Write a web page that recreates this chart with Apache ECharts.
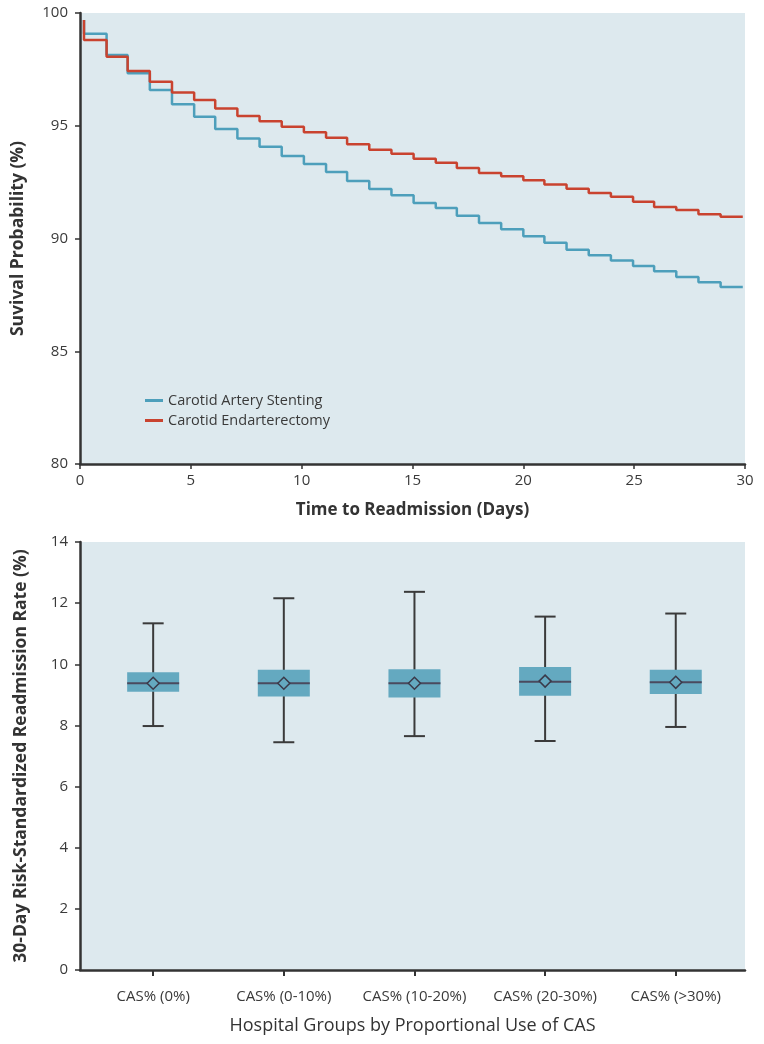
<!DOCTYPE html>
<html>
<head>
<meta charset="utf-8">
<script src="https://cdn.jsdelivr.net/npm/echarts@6/dist/echarts.min.js"></script>
<style>
html,body{margin:0;padding:0;background:#fff;}
#chart{width:764px;height:1044px;}
</style>
</head>
<body>
<div id="chart"></div>
<script>
// ---- Top panel: Kaplan-Meier survival (readmission-free) ----
const startDay = 0.18;
const startSurvival = 99.69;
const stepDays = [0.18, 1.2, 2.15, 3.15, 4.15, 5.15, 6.1, 7.1, 8.1, 9.1, 10.1, 11.1, 12.05, 13.05, 14.05,
  15.05, 16.05, 17.0, 18.0, 19.0, 20.0, 20.95, 21.95, 22.95, 23.95, 24.95, 25.9, 26.9, 27.9, 28.9];
const endDay = 29.9;
const casSurvival = [99.08, 98.14, 97.33, 96.59, 95.95, 95.40, 94.86, 94.44, 94.07, 93.66, 93.30, 92.95, 92.55, 92.20, 91.92,
  91.57, 91.35, 91.01, 90.69, 90.41, 90.10, 89.81, 89.50, 89.26, 89.02, 88.78, 88.55, 88.29, 88.06, 87.85];
const ceaSurvival = [98.80, 98.06, 97.43, 96.95, 96.48, 96.14, 95.77, 95.43, 95.20, 94.96, 94.71, 94.47, 94.18, 93.94, 93.76,
  93.54, 93.36, 93.13, 92.90, 92.76, 92.58, 92.39, 92.21, 92.02, 91.85, 91.63, 91.40, 91.26, 91.07, 90.97];
const seriesNames = ['Carotid Artery Stenting', 'Carotid Endarterectomy'];
const survivalTicks = [80, 85, 90, 95, 100];
const dayTicks = [0, 5, 10, 15, 20, 25, 30];

// ---- Bottom panel: box plots by hospital group ----
const categories = ['CAS% (0%)', 'CAS% (0-10%)', 'CAS% (10-20%)', 'CAS% (20-30%)', 'CAS% (>30%)'];
const boxMin    = [7.98, 7.45, 7.65, 7.49, 7.95];
const boxQ1     = [9.10, 8.95, 8.91, 8.97, 9.03];
const boxMedian = [9.38, 9.38, 9.38, 9.43, 9.41];
const boxQ3     = [9.74, 9.82, 9.84, 9.91, 9.82];
const boxMax    = [11.34, 12.16, 12.37, 11.56, 11.66];
const boxMean   = [9.38, 9.38, 9.38, 9.45, 9.41];
const rateTicks = [0, 2, 4, 6, 8, 10, 12, 14];

const BLUE = '#4d9fbb';
const RED = '#c9432f';
const BG = '#dde9ee';
const AX = '#333333';
const FONT = 'Open Sans';

function kmData(vals) {
  const d = [[startDay, startSurvival]];
  stepDays.forEach((t, i) => d.push([t, vals[i]]));
  d.push([endDay, vals[vals.length - 1]]);
  return d;
}

const boxData = categories.map((c, i) => [i + 1, boxMin[i], boxQ1[i], boxMedian[i], boxQ3[i], boxMax[i], boxMean[i]]);

const axisCommon = {
  axisLine: {show: true, onZero: false, lineStyle: {color: AX, width: 2.5}},
  axisTick: {show: true, length: 5, lineStyle: {color: AX, width: 1.5}},
  splitLine: {show: false},
  axisLabel: {color: '#3a3a3a', fontSize: 15, fontFamily: FONT}
};

const chart = echarts.init(document.getElementById('chart'), null, {renderer: 'canvas'});
chart.setOption({
  animation: false,
  backgroundColor: '#ffffff',
  textStyle: {fontFamily: FONT},
  grid: [
    {left: 80, right: 19, top: 13, height: 451, show: true, backgroundColor: BG, borderWidth: 0},
    {left: 80, right: 19, top: 542, height: 428, show: true, backgroundColor: BG, borderWidth: 0}
  ],
  legend: {
    data: seriesNames,
    orient: 'vertical',
    left: 140, top: 388,
    icon: 'rect', itemWidth: 18, itemHeight: 3, itemGap: 5,
    textStyle: {fontSize: 14.5, color: '#3a3a3a', fontFamily: FONT}
  },
  xAxis: [
    Object.assign({}, axisCommon, {
      gridIndex: 0, type: 'value', min: dayTicks[0], max: dayTicks[dayTicks.length - 1], interval: 5,
      axisLabel: Object.assign({}, axisCommon.axisLabel, {margin: 9}),
      name: 'Time to Readmission (Days)', nameLocation: 'middle', nameGap: 38,
      nameTextStyle: {fontSize: 17, fontWeight: 'bold', color: '#333', fontFamily: FONT}
    }),
    Object.assign({}, axisCommon, {
      gridIndex: 1, type: 'value', min: 0.44, max: 5.53,
      axisTick: {show: true, length: 6, customValues: [1, 2, 3, 4, 5], lineStyle: {color: AX, width: 2}},
      axisLabel: {color: '#3a3a3a', fontSize: 15, fontFamily: FONT, margin: 19,
        customValues: [1, 2, 3, 4, 5], formatter: v => categories[Math.round(v) - 1]},
      name: 'Hospital Groups by Proportional Use of CAS', nameLocation: 'middle', nameGap: 47,
      nameTextStyle: {fontSize: 18, color: '#333', fontFamily: FONT}
    })
  ],
  yAxis: [
    Object.assign({}, axisCommon, {
      gridIndex: 0, type: 'value', min: survivalTicks[0], max: survivalTicks[survivalTicks.length - 1], interval: 5,
      axisLabel: Object.assign({}, axisCommon.axisLabel, {margin: 12}),
      name: 'Suvival Probability (%)', nameLocation: 'middle', nameGap: 53, nameRotate: 90,
      nameTextStyle: {fontSize: 17.5, fontWeight: 'bold', color: '#333', fontFamily: FONT}
    }),
    Object.assign({}, axisCommon, {
      gridIndex: 1, type: 'value', min: rateTicks[0], max: rateTicks[rateTicks.length - 1], interval: 2,
      axisLabel: Object.assign({}, axisCommon.axisLabel, {margin: 12}),
      name: '30-Day Risk-Standardized Readmission Rate (%)', nameLocation: 'middle', nameGap: 50, nameRotate: 90,
      nameTextStyle: {fontSize: 17.5, fontWeight: 'bold', color: '#333', fontFamily: FONT}
    })
  ],
  series: [
    {
      name: seriesNames[0], type: 'line', step: 'end', xAxisIndex: 0, yAxisIndex: 0,
      data: kmData(casSurvival), showSymbol: false, symbol: 'none',
      lineStyle: {color: BLUE, width: 2.5}, itemStyle: {color: BLUE}, z: 3
    },
    {
      name: seriesNames[1], type: 'line', step: 'end', xAxisIndex: 0, yAxisIndex: 0,
      data: kmData(ceaSurvival), showSymbol: false, symbol: 'none',
      lineStyle: {color: RED, width: 2.5}, itemStyle: {color: RED}, z: 4
    },
    {
      type: 'custom', xAxisIndex: 1, yAxisIndex: 1,
      data: boxData,
      renderItem: function (params, api) {
        const x = api.value(0);
        const pMin = api.coord([x, api.value(1)]);
        const pQ1 = api.coord([x, api.value(2)]);
        const pMed = api.coord([x, api.value(3)]);
        const pQ3 = api.coord([x, api.value(4)]);
        const pMax = api.coord([x, api.value(5)]);
        const pMean = api.coord([x, api.value(6)]);
        const cx = pMed[0];
        const bw = 52, cw = 21, d = 6;
        const wStyle = {stroke: '#3a3a3a', lineWidth: 2};
        return {
          type: 'group',
          children: [
            {type: 'line', shape: {x1: cx, y1: pMin[1], x2: cx, y2: pMax[1]}, style: wStyle},
            {type: 'line', shape: {x1: cx - cw / 2, y1: pMin[1], x2: cx + cw / 2, y2: pMin[1]}, style: wStyle},
            {type: 'line', shape: {x1: cx - cw / 2, y1: pMax[1], x2: cx + cw / 2, y2: pMax[1]}, style: wStyle},
            {type: 'rect', shape: {x: cx - bw / 2, y: pQ3[1], width: bw, height: pQ1[1] - pQ3[1]},
              style: {fill: '#64a9c0', stroke: null}},
            {type: 'line', shape: {x1: cx - bw / 2, y1: pMed[1], x2: cx + bw / 2, y2: pMed[1]},
              style: {stroke: '#4a4a5e', lineWidth: 2}},
            {type: 'polygon', shape: {points: [[cx, pMean[1] - d], [cx + d, pMean[1]], [cx, pMean[1] + d], [cx - d, pMean[1]]]},
              style: {fill: '#64a9c0', stroke: '#3a3a4a', lineWidth: 1.5}}
          ]
        };
      }
    }
  ]
});
</script>
</body>
</html>
